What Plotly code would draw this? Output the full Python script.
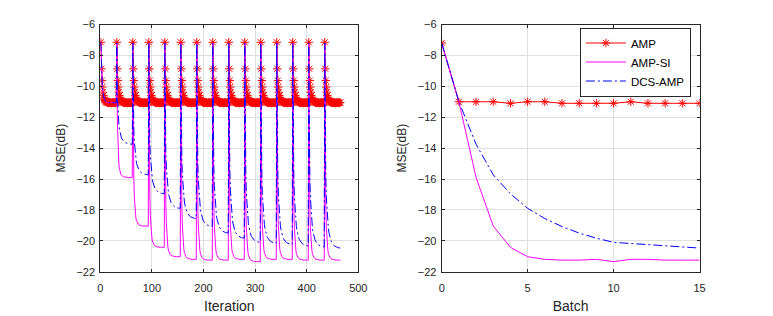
import plotly.graph_objects as go

# ---------------- data ----------------
batch_len = 31
n_batches = 15
start_db = -7.2

# AMP MSE within one batch (dB), same in every batch
amp_batch_curve = [-7.15, -8.87, -9.63, -10.05, -10.38, -10.6, -10.75, -10.85, -10.92, -10.97,
                   -11.0, -11.02, -11.05, -11.03, -11.06, -11.05, -11.08, -11.04, -11.07, -11.05,
                   -11.06, -11.09, -11.05, -11.07, -11.04, -11.06, -11.08, -11.05, -11.07, -11.06, -11.05]

# normalised decay within a batch (1 = batch start, 0 = batch end value)
amp_si_profile = [1.0, 0.42, 0.25, 0.155, 0.1, 0.066, 0.045, 0.031, 0.022, 0.016,
                  0.012, 0.009, 0.007, 0.005, 0.004, 0.003, 0.002, 0.002, 0.001, 0.001,
                  0.001, 0.0, 0.0, 0.0, 0.0, 0.0, 0.0, 0.0, 0.0, 0.0, 0.0]
dcs_profile = [1.0, 0.5, 0.34, 0.25, 0.19, 0.15, 0.12, 0.095, 0.077, 0.063,
               0.052, 0.043, 0.036, 0.03, 0.025, 0.021, 0.017, 0.014, 0.012, 0.01,
               0.008, 0.0065, 0.005, 0.004, 0.003, 0.0025, 0.002, 0.0015, 0.001, 0.0005, 0.0]

# MSE at end of each batch (dB)
batches = list(range(16))
amp_batch = [-7.2, -11.0, -11.0, -11.0, -11.1, -11.0, -11.0, -11.1, -11.1, -11.1,
             -11.1, -11.0, -11.1, -11.1, -11.1, -11.1]
amp_si_batch = [-7.2, -11.0, -15.9, -19.05, -20.42, -21.03, -21.2, -21.25, -21.25, -21.2,
                -21.35, -21.2, -21.2, -21.25, -21.25, -21.25]
dcs_batch = [-7.2, -11.0, -13.75, -15.73, -16.96, -17.9, -18.56, -19.08, -19.5, -19.83,
             -20.1, -20.17, -20.25, -20.33, -20.4, -20.47]

iterations = list(range(1, batch_len * n_batches + 1))


def build(profile, finals):
    out = []
    for b in range(n_batches):
        if b == 0:
            out.extend(amp_batch_curve)
        else:
            end = finals[b + 1]
            out.extend(end + (start_db - end) * p for p in profile)
    return out


amp_iter = amp_batch_curve * n_batches
amp_si_iter = build(amp_si_profile, amp_si_batch)
dcs_iter = build(dcs_profile, dcs_batch)

# ---------------- figure ----------------
RED, MAG, BLUE = "#FF0000", "#FF00FF", "#0000FF"
DASHDOT = "9px,3px,2px,3px"
FONT = "Liberation Sans, Arial, Helvetica, sans-serif"
TXT = "#262626"

star = dict(symbol="asterisk-open", size=7, color=RED, line=dict(color=RED, width=1))

fig = go.Figure()
fig.add_trace(go.Scatter(x=iterations, y=amp_iter, mode="lines+markers", name="AMP",
                         line=dict(color=RED, width=1), marker=star,
                         xaxis="x", yaxis="y", showlegend=False))
fig.add_trace(go.Scatter(x=iterations, y=amp_si_iter, mode="lines", name="AMP-SI",
                         line=dict(color=MAG, width=1),
                         xaxis="x", yaxis="y", showlegend=False))
fig.add_trace(go.Scatter(x=iterations, y=dcs_iter, mode="lines", name="DCS-AMP",
                         line=dict(color=BLUE, width=1, dash=DASHDOT),
                         xaxis="x", yaxis="y", showlegend=False))

fig.add_trace(go.Scatter(x=batches, y=amp_batch, mode="lines+markers", name="AMP",
                         line=dict(color=RED, width=1), marker=star,
                         xaxis="x2", yaxis="y2"))
fig.add_trace(go.Scatter(x=batches, y=amp_si_batch, mode="lines", name="AMP-SI",
                         line=dict(color=MAG, width=1),
                         xaxis="x2", yaxis="y2"))
fig.add_trace(go.Scatter(x=batches, y=dcs_batch, mode="lines", name="DCS-AMP",
                         line=dict(color=BLUE, width=1, dash=DASHDOT),
                         xaxis="x2", yaxis="y2"))

# the page body has an 8px margin: figure is placed at (8, 8)
OFF = 8
W, H = 773 - OFF, 316 - OFF


def px_x(v):
    return (v - OFF) / W


def px_y(v):
    return 1 - (v - OFF) / H


axis_common = dict(showline=True, linecolor=TXT, linewidth=1, mirror="ticks",
                   ticks="inside", ticklen=3, tickcolor=TXT, tickwidth=1,
                   showgrid=True, gridcolor="#dfdfdf", gridwidth=1, zeroline=False,
                   tickfont=dict(family=FONT, size=11, color=TXT), automargin=False)
xaxis_common = dict(axis_common, ticklabelstandoff=6)
yaxis_common = dict(axis_common, ticklabelstandoff=2)

ydom = [px_y(271.7), px_y(24.5)]
fig.update_layout(
    width=W, height=H,
    margin=dict(l=0, r=0, t=0, b=0),
    paper_bgcolor="white", plot_bgcolor="white",
    font=dict(family=FONT, color=TXT),
    xaxis=dict(xaxis_common, domain=[px_x(100.3), px_x(358.3)], range=[0, 500],
               tickvals=[0, 100, 200, 300, 400, 500], anchor="y",
               title=dict(text="Iteration", font=dict(size=14, color=TXT), standoff=8)),
    yaxis=dict(yaxis_common, domain=ydom, range=[-22, -6],
               tickvals=list(range(-22, -5, 2)), anchor="x",
               title=dict(text="MSE(dB)", font=dict(size=12, color=TXT), standoff=8)),
    xaxis2=dict(xaxis_common, domain=[px_x(441.7), px_x(699.5)], range=[0, 15],
                tickvals=[0, 5, 10, 15], anchor="y2",
                title=dict(text="Batch", font=dict(size=14, color=TXT), standoff=8)),
    yaxis2=dict(yaxis_common, domain=ydom, range=[-22, -6],
                tickvals=list(range(-22, -5, 2)), anchor="x2",
                title=dict(text="MSE(dB)", font=dict(size=12, color=TXT), standoff=8)),
    legend=dict(x=px_x(635.4), y=px_y(27.5), xanchor="center", yanchor="top",
                bordercolor=TXT, borderwidth=1, bgcolor="white",
                font=dict(family=FONT, size=11.5, color="#000000"),
                itemwidth=40, tracegroupgap=0),
    showlegend=True,
)

fig.write_html("out.html")
